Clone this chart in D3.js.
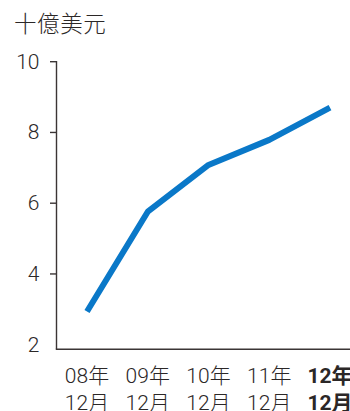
<!DOCTYPE html>
<html>
<head>
<meta charset="utf-8">
<script src="https://cdn.jsdelivr.net/npm/d3@7/dist/d3.min.js"></script>
<style>
  html, body { margin: 0; padding: 0; background: #fff; }
  svg { display: block; }
  text { font-family: Roboto, "Noto Sans CJK TC", "Noto Sans CJK SC", sans-serif; fill: #2b2727; }
  .cjk { font-family: "Noto Sans CJK TC", "Noto Sans CJK SC", sans-serif; }
</style>
</head>
<body>
<div id="chart"></div>
<script>
// Year-end values, in billions of US dollars
const yearLabels = ["08年", "09年", "10年", "11年", "12年"];
const monthLabels = ["12月", "12月", "12月", "12月", "12月"];
const values = [2.94, 5.76, 7.08, 7.79, 8.70];
const yTicks = [2, 4, 6, 8, 10];
const unitLabel = "十億美元";

const width = 350, height = 411;
const axisX = 56.5, baseY = 349.3;

const svg = d3.select("#chart").append("svg")
  .attr("width", width).attr("height", height);

const x = d3.scalePoint().domain(d3.range(values.length)).range([87, 330]);
const y = d3.scaleLinear().domain([2, 10]).range([344.7, 61.7]);

const axisColor = "#3b3535";

// unit title
svg.append("text")
  .attr("class", "cjk")
  .attr("x", 14).attr("y", 32)
  .attr("font-size", 22.5)
  .attr("font-weight", 300)
  .attr("letter-spacing", 0.6)
  .text(unitLabel);

// y axis line
svg.append("line")
  .attr("x1", axisX).attr("x2", axisX)
  .attr("y1", y(10) - 0.6).attr("y2", baseY)
  .attr("stroke", axisColor).attr("stroke-width", 1.4);

// x axis line
svg.append("line")
  .attr("x1", axisX - 0.7).attr("x2", width)
  .attr("y1", baseY).attr("y2", baseY)
  .attr("stroke", axisColor).attr("stroke-width", 1.4);

// y ticks (2 sits on the baseline, no tick mark)
svg.selectAll(".ytick").data(yTicks.filter(d => d !== 2)).enter()
  .append("line")
  .attr("x1", axisX - 6.5).attr("x2", axisX)
  .attr("y1", d => y(d)).attr("y2", d => y(d))
  .attr("stroke", axisColor).attr("stroke-width", 1.4);

svg.selectAll(".ylab").data(yTicks).enter()
  .append("text")
  .attr("x", 39.5)
  .attr("y", d => y(d) + 7)
  .attr("text-anchor", "end")
  .attr("font-size", 21)
  .attr("font-weight", 300)
  .text(d => d);

// the series line
const line = d3.line()
  .x((d, i) => x(i))
  .y(d => y(d));

svg.append("path")
  .datum(values)
  .attr("d", line)
  .attr("fill", "none")
  .attr("stroke", "#0a78c8")
  .attr("stroke-width", 6)
  .attr("stroke-linejoin", "round");

// x labels, latest year emphasised
const last = values.length - 1;
const xl = svg.selectAll(".xlab").data(yearLabels).enter()
  .append("g")
  .attr("transform", (d, i) => `translate(${x(i)},0)`);

xl.append("text")
  .attr("y", 382.5)
  .attr("text-anchor", "middle")
  .attr("font-size", 21)
  .attr("font-weight", (d, i) => i === last ? 700 : 300)
  .attr("fill", (d, i) => i === last ? "#111" : null)
  .text(d => d);

xl.append("text")
  .attr("y", 410)
  .attr("text-anchor", "middle")
  .attr("font-size", 21)
  .attr("font-weight", (d, i) => i === last ? 700 : 300)
  .attr("fill", (d, i) => i === last ? "#111" : null)
  .text((d, i) => monthLabels[i]);
</script>
</body>
</html>
